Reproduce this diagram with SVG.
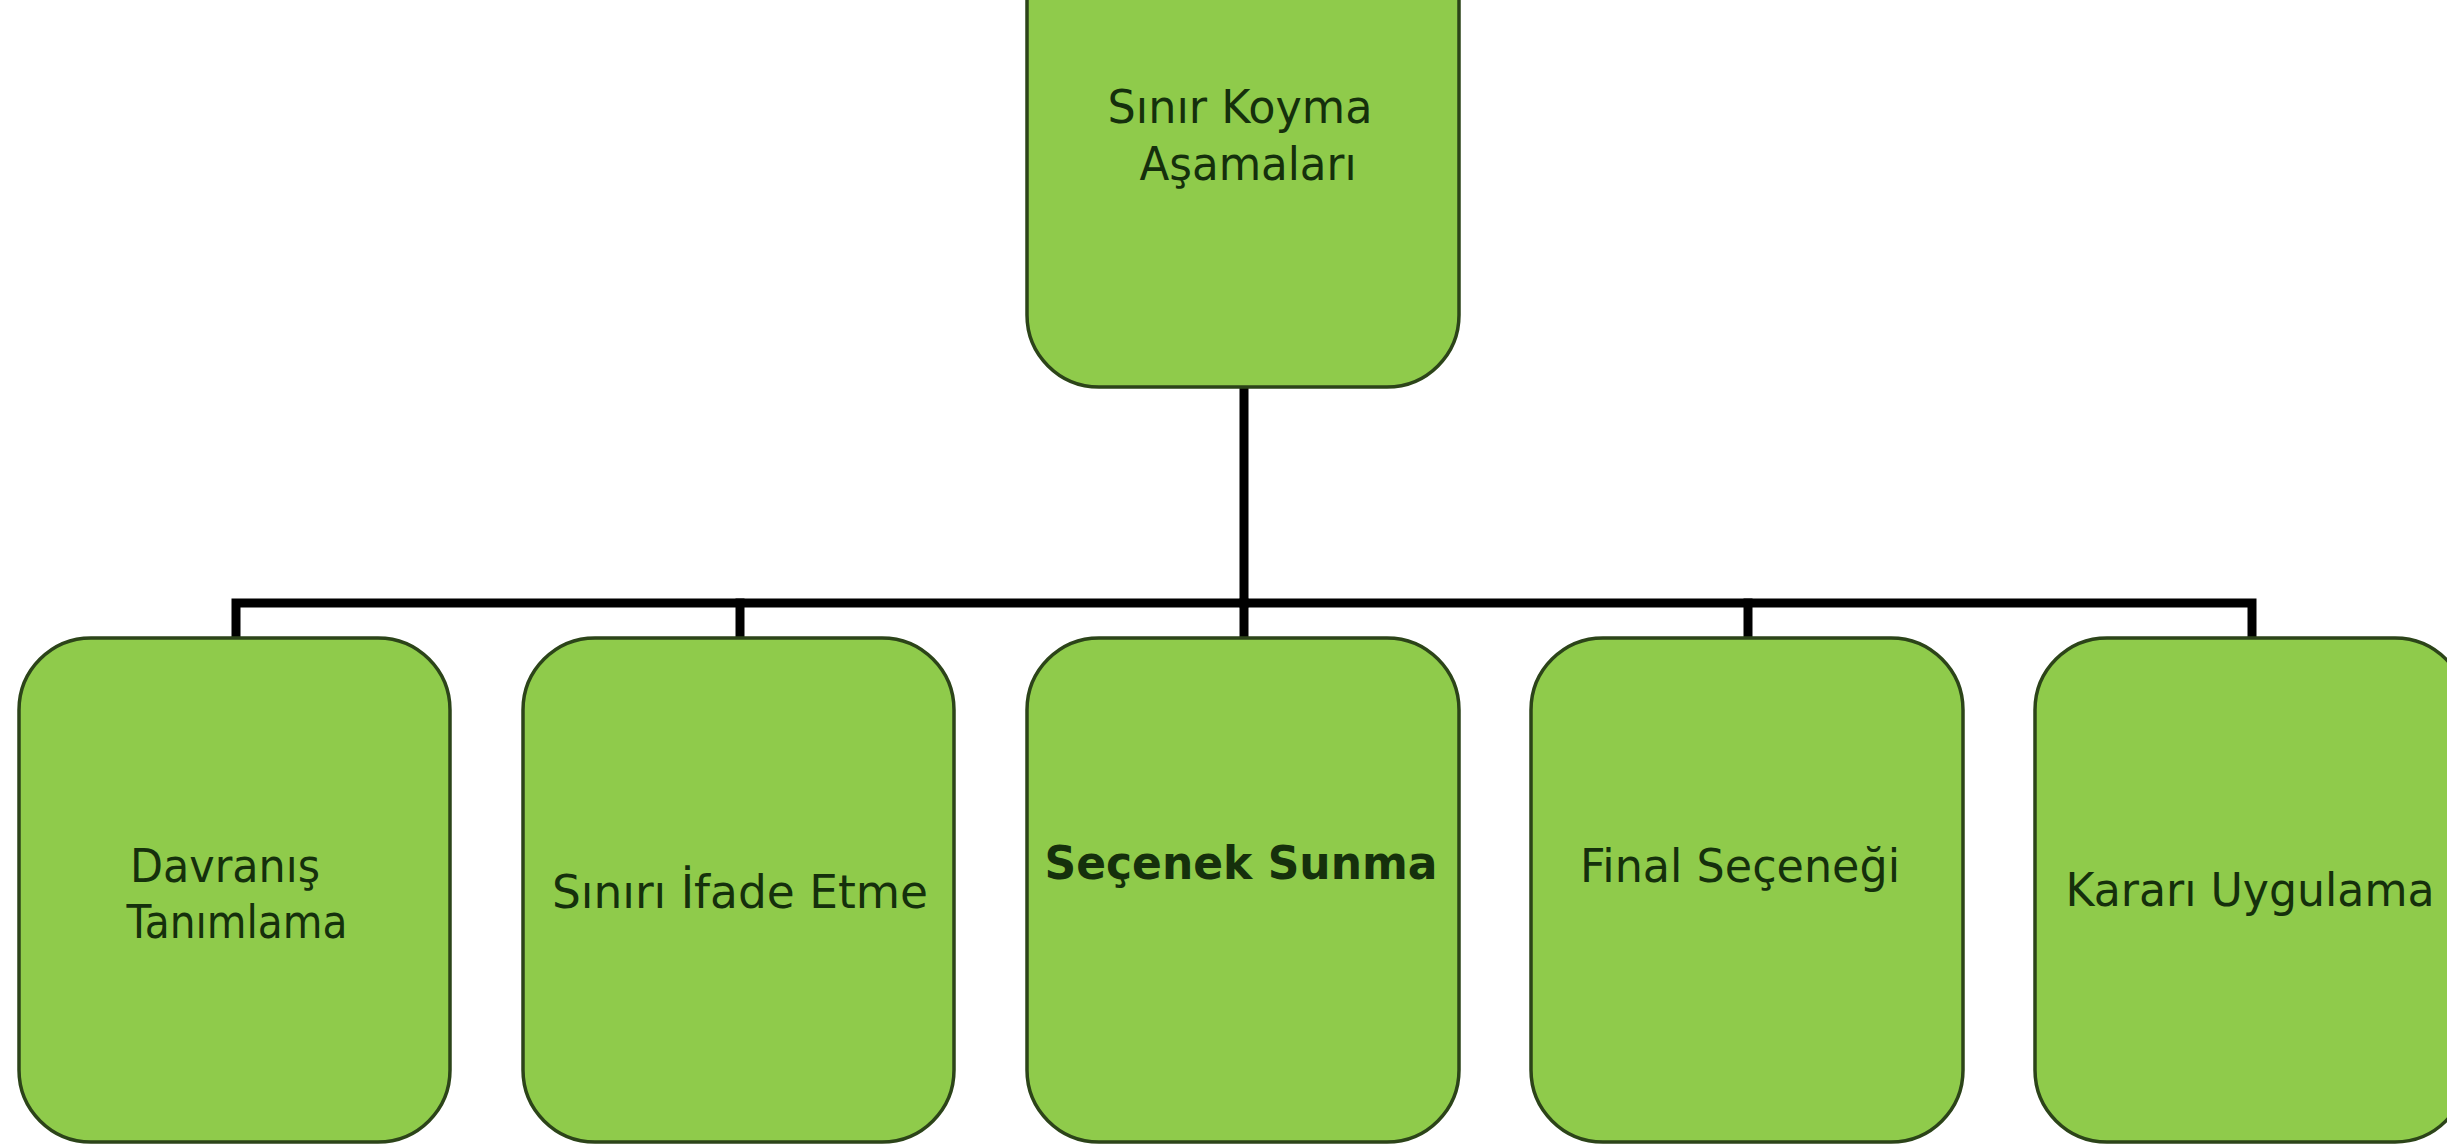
<svg xmlns="http://www.w3.org/2000/svg" width="2447" height="1144" viewBox="0 0 2447 1144">
<style>
.box{fill:#8fcb4b;stroke:#2c4419;stroke-width:3.5}
.lbl{font-family:"DejaVu Sans","Verdana","Liberation Sans",sans-serif;font-size:47px;fill:#15300c;text-anchor:middle}
.b{font-weight:bold}
.conn{fill:none;stroke:#000;stroke-width:9;stroke-linejoin:miter;stroke-linecap:square}
</style>
<rect width="2447" height="1144" fill="#ffffff"/>
<g id="connectors">
<path class="conn" d="M1244 388 V603"/>
<path class="conn" d="M236 637 V603 H2252 V637"/>
<path class="conn" d="M740 603 V637"/>
<path class="conn" d="M1244 603 V637"/>
<path class="conn" d="M1748 603 V637"/>
</g>
<g id="node-root">
<rect class="box" x="1027" y="-90" width="432" height="477" rx="72" ry="72"/>
<text class="lbl" x="1240" y="123" textLength="265" lengthAdjust="spacingAndGlyphs">Sınır Koyma</text>
<text class="lbl" x="1248" y="180" textLength="217" lengthAdjust="spacingAndGlyphs">Aşamaları</text>
</g>
<g id="node-1">
<rect class="box" x="19" y="638" width="431" height="504" rx="72" ry="72"/>
<text class="lbl" x="225" y="882" textLength="190" lengthAdjust="spacingAndGlyphs">Davranış</text>
<text class="lbl" x="237" y="938" textLength="221" lengthAdjust="spacingAndGlyphs">Tanımlama</text>
</g>
<g id="node-2">
<rect class="box" x="523" y="638" width="431" height="504" rx="72" ry="72"/>
<text class="lbl" x="740" y="908" textLength="376" lengthAdjust="spacingAndGlyphs">Sınırı İfade Etme</text>
</g>
<g id="node-3">
<rect class="box" x="1027" y="638" width="432" height="504" rx="72" ry="72"/>
<text class="lbl b" x="1241" y="879" textLength="393" lengthAdjust="spacingAndGlyphs">Seçenek Sunma</text>
</g>
<g id="node-4">
<rect class="box" x="1531" y="638" width="432" height="504" rx="72" ry="72"/>
<text class="lbl" x="1740" y="882" textLength="320" lengthAdjust="spacingAndGlyphs">Final Seçeneği</text>
</g>
<g id="node-5">
<rect class="box" x="2035" y="638" width="432" height="504" rx="72" ry="72"/>
<text class="lbl" x="2250" y="906" textLength="369" lengthAdjust="spacingAndGlyphs">Kararı Uygulama</text>
</g>
</svg>
